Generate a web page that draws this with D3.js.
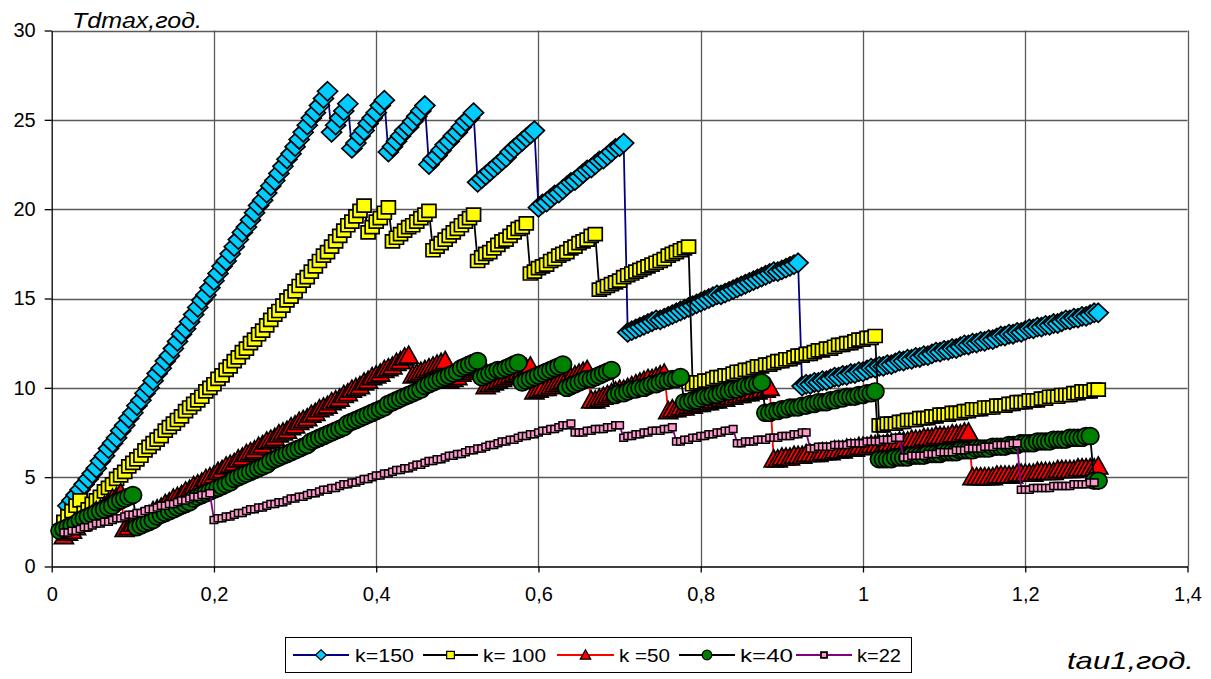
<!DOCTYPE html>
<html>
<head>
<meta charset="utf-8">
<script src="https://cdn.jsdelivr.net/npm/d3@7/dist/d3.min.js"></script>
<style>
  body { margin: 0; background: #fff; }
  text { font-family: "Liberation Sans", Arial, sans-serif; fill: #000; }
</style>
</head>
<body>
<svg id="chart" width="1211" height="679"></svg>
<script>
// tau1 values (x), shared by all series
const tau1 = [
  0.010,0.015,0.020,0.025,0.030,0.035,0.040,0.045,0.050,0.055,0.060,0.065,0.070,0.075,0.080,0.085,0.090,0.095,0.100,0.105,
  0.110,0.115,0.120,0.125,0.130,0.135,0.140,0.145,0.150,0.155,0.160,0.165,0.170,0.175,0.180,0.185,0.190,0.195,0.200,0.205,
  0.210,0.215,0.220,0.225,0.230,0.235,0.240,0.245,0.250,0.255,0.260,0.265,0.270,0.275,0.280,0.285,0.290,0.295,0.300,0.305,
  0.310,0.315,0.320,0.325,0.330,0.335,0.340,0.345,0.350,0.355,0.360,0.365,0.370,0.375,0.380,0.385,0.390,0.395,0.400,0.405,
  0.410,0.415,0.420,0.425,0.430,0.435,0.440,0.445,0.450,0.455,0.460,0.465,0.470,0.475,0.480,0.485,0.490,0.495,0.500,0.505,
  0.510,0.515,0.520,0.525,0.530,0.535,0.540,0.545,0.550,0.555,0.560,0.565,0.570,0.575,0.580,0.585,0.590,0.595,0.600,0.605,
  0.610,0.615,0.620,0.625,0.630,0.635,0.640,0.645,0.650,0.655,0.660,0.665,0.670,0.675,0.680,0.685,0.690,0.695,0.700,0.705,
  0.710,0.715,0.720,0.725,0.730,0.735,0.740,0.745,0.750,0.755,0.760,0.765,0.770,0.775,0.780,0.785,0.790,0.795,0.800,0.805,
  0.810,0.815,0.820,0.825,0.830,0.835,0.840,0.845,0.850,0.855,0.860,0.865,0.870,0.875,0.880,0.885,0.890,0.895,0.900,0.905,
  0.910,0.915,0.920,0.925,0.930,0.935,0.940,0.945,0.950,0.955,0.960,0.965,0.970,0.975,0.980,0.985,0.990,0.995,1.000,1.005,
  1.010,1.015,1.020,1.025,1.030,1.035,1.040,1.045,1.050,1.055,1.060,1.065,1.070,1.075,1.080,1.085,1.090,1.095,1.100,1.105,
  1.110,1.115,1.120,1.125,1.130,1.135,1.140,1.145,1.150,1.155,1.160,1.165,1.170,1.175,1.180,1.185,1.190,1.195,1.200,1.205,
  1.210,1.215,1.220,1.225,1.230,1.235,1.240,1.245,1.250,1.255,1.260,1.265,1.270,1.275,1.280,1.285,1.290
];

// Tdmax, k=150
const k150 = [
  null,null,
  3.4,3.7,4.0,4.3,4.6,4.9,5.2,5.5,5.9,6.2,6.6,6.9,7.2,7.6,7.9,8.3,8.6,
  9.0,9.3,9.7,10.0,10.4,10.8,11.1,11.5,11.8,12.2,12.6,13.0,13.3,13.7,14.1,14.5,14.9,15.2,15.6,16.0,
  16.4,16.8,17.1,17.5,17.9,18.3,18.7,19.0,19.4,19.8,20.2,20.5,20.9,21.3,21.6,22.0,22.4,22.8,23.1,23.5,
  23.9,24.3,24.7,25.1,25.4,25.8,26.2,26.6,
  24.3,24.7,25.1,25.5,25.9,
  23.4,23.7,24.1,24.4,24.8,25.1,25.4,25.8,26.1,
  23.2,23.5,23.8,24.1,24.4,24.6,24.9,25.2,25.5,25.8,
  22.5,22.8,23.0,23.3,23.6,23.8,24.1,24.3,24.6,24.9,25.1,25.4,
  21.5,21.7,21.9,22.1,22.3,22.5,22.7,22.9,23.2,23.4,23.6,23.8,24.0,24.2,24.4,
  20.1,20.3,20.4,20.6,20.8,20.9,21.1,21.3,21.5,21.6,21.8,22.0,22.2,22.3,22.5,22.7,22.8,23.0,23.2,23.4,23.5,23.7,
  13.1,13.2,13.3,13.4,13.5,13.6,13.7,13.8,13.8,13.9,14.0,14.1,14.2,14.3,14.4,14.5,14.6,14.7,14.8,14.9,
  15.0,15.1,15.2,15.2,15.3,15.4,15.5,15.6,15.7,15.8,15.9,16.0,16.1,16.2,16.3,16.4,16.5,16.5,16.6,16.7,
  16.8,16.9,17.0,
  10.1,10.2,10.2,10.3,10.3,10.4,10.4,10.5,10.6,10.6,10.7,10.7,10.8,10.8,10.9,10.9,11.0,11.1,11.1,11.2,
  11.2,11.3,11.3,11.4,11.5,11.5,11.6,11.6,11.7,11.7,11.8,11.8,11.9,12.0,12.0,12.1,12.1,12.2,12.2,12.3,
  12.4,12.4,12.5,12.5,12.6,12.6,12.7,12.7,12.8,12.9,12.9,13.0,13.0,13.1,13.1,13.2,13.3,13.3,13.4,13.4,
  13.5,13.5,13.6,13.6,13.7,13.8,13.8,13.9,13.9,14.0,14.0,14.1,14.2,14.2
];

// Tdmax, k=100
const k100 = [
  null,
  2.5,2.8,3.1,3.4,3.7,
  3.0,3.2,3.5,3.7,3.9,4.2,4.4,4.6,4.9,5.1,5.3,5.6,5.8,
  6.0,6.2,6.5,6.7,6.9,7.1,7.3,7.6,7.8,8.0,8.2,8.4,8.7,8.9,9.1,9.3,9.5,9.8,10.0,10.2,
  10.5,10.7,11.0,11.2,11.5,11.7,12.0,12.2,12.5,12.7,13.0,13.2,13.5,13.8,14.1,14.3,14.6,14.9,15.1,15.4,
  15.7,16.0,16.2,16.5,16.8,17.1,17.4,17.6,17.9,18.2,18.5,18.8,19.1,19.3,19.6,19.9,20.2,
  18.7,19.0,19.3,19.5,19.8,20.1,
  18.2,18.4,18.6,18.8,19.0,19.1,19.3,19.5,19.7,19.9,
  17.7,17.9,18.1,18.3,18.5,18.7,18.9,19.1,19.3,19.5,19.7,
  17.1,17.3,17.5,17.6,17.8,18.0,18.2,18.3,18.5,18.7,18.9,19.0,19.2,
  16.4,16.5,16.7,16.8,16.9,17.1,17.2,17.4,17.5,17.6,17.8,17.9,18.1,18.2,18.3,18.5,18.6,
  15.5,15.6,15.7,15.8,15.9,16.0,16.2,16.3,16.4,16.5,16.6,16.7,16.8,16.9,17.0,17.1,17.2,17.4,17.5,17.6,17.7,17.8,17.9,
  10.2,10.3,10.3,10.4,10.4,10.5,10.6,10.6,10.7,10.7,10.8,10.9,10.9,11.0,11.0,11.1,11.2,11.2,11.3,11.3,
  11.4,11.5,11.5,11.6,11.6,11.7,11.8,11.8,11.9,11.9,12.0,12.1,12.1,12.2,12.2,12.3,12.4,12.4,12.5,12.5,
  12.6,12.7,12.7,12.8,12.8,12.9,
  7.9,7.9,8.0,8.0,8.0,8.1,8.1,8.2,8.2,8.2,8.3,8.3,8.3,8.4,8.4,8.5,8.5,8.5,8.6,8.6,
  8.6,8.7,8.7,8.8,8.8,8.8,8.9,8.9,8.9,9.0,9.0,9.0,9.1,9.1,9.2,9.2,9.2,9.3,9.3,9.3,
  9.4,9.4,9.5,9.5,9.5,9.6,9.6,9.6,9.7,9.7,9.8,9.8,9.8,9.9,9.9
];

// Tdmax, k=50
const k50 = [
  null,
  1.7,1.9,2.0,2.2,2.4,2.6,2.7,2.9,3.1,3.2,3.4,3.6,3.8,3.9,4.1,
  2.1,2.2,2.4,2.5,2.7,2.8,2.9,3.1,3.2,3.3,3.5,3.6,3.8,3.9,4.0,4.2,4.3,4.5,4.6,4.7,
  4.9,5.0,5.1,5.3,5.4,5.6,5.7,5.8,6.0,6.1,6.3,6.4,6.5,6.7,6.8,7.0,7.1,7.2,7.4,7.5,
  7.6,7.8,7.9,8.1,8.2,8.3,8.5,8.6,8.8,8.9,9.0,9.2,9.3,9.4,9.6,9.7,9.9,10.0,10.1,10.3,
  10.4,10.6,10.7,10.8,11.0,11.1,11.2,11.4,11.5,11.7,11.8,
  10.7,10.8,10.9,11.0,11.1,11.2,11.3,11.4,11.5,
  10.4,10.5,10.6,10.8,10.9,11.0,11.1,11.2,11.3,
  10.1,10.2,10.3,10.4,10.5,10.6,10.7,10.8,10.9,11.0,11.1,11.2,
  9.8,9.9,10.0,10.0,10.1,10.2,10.3,10.4,10.5,10.6,10.7,10.8,10.9,11.0,
  9.3,9.3,9.4,9.5,9.6,9.7,9.8,9.9,9.9,10.0,10.1,10.2,10.3,10.4,10.5,10.5,10.6,10.7,10.8,
  8.7,8.8,8.8,8.9,8.9,9.0,9.0,9.1,9.1,9.2,9.2,9.3,9.3,9.4,9.4,9.5,9.5,9.6,9.6,9.7,9.7,9.8,9.8,9.9,9.9,10.0,
  6.0,6.0,6.1,6.1,6.1,6.2,6.2,6.2,6.3,6.3,6.3,6.3,6.4,6.4,6.4,6.5,6.5,6.5,6.6,6.6,
  6.6,6.7,6.7,6.7,6.8,6.8,6.8,6.8,6.9,6.9,6.9,7.0,7.0,7.0,7.1,7.1,7.1,7.2,7.2,7.2,
  7.3,7.3,7.3,7.3,7.4,7.4,7.4,7.5,7.5,
  5.0,5.0,5.0,5.0,5.0,5.0,5.1,5.1,5.1,5.1,5.1,5.2,5.2,5.2,5.2,5.2,5.3,5.3,5.3,5.3,
  5.3,5.4,5.4,5.4,5.4,5.4,5.5,5.5,5.5,5.5,5.5,5.6
];

// Tdmax, k=40
const k40 = [
  2.0,2.1,2.2,2.3,2.4,2.6,2.7,2.8,2.9,3.0,3.1,3.2,3.3,3.4,3.6,3.7,3.8,3.9,4.0,
  2.2,2.3,2.4,2.5,2.6,2.8,2.9,3.0,3.1,3.2,3.3,3.4,3.5,3.6,3.8,3.9,4.0,4.1,4.2,4.3,
  4.4,4.5,4.6,4.7,4.9,5.0,5.1,5.2,5.3,5.4,5.5,5.6,5.7,5.9,6.0,6.1,6.2,6.3,6.4,6.5,
  6.6,6.7,6.8,7.0,7.1,7.2,7.3,7.4,7.5,7.6,7.7,7.8,8.0,8.1,8.2,8.3,8.4,8.5,8.6,8.7,
  8.8,8.9,9.1,9.2,9.3,9.4,9.5,9.6,9.7,9.8,9.9,10.1,10.2,10.3,10.4,10.5,10.6,10.7,10.8,10.9,
  11.1,11.2,11.3,11.4,11.5,
  10.6,10.7,10.8,10.9,11.0,11.0,11.1,11.2,11.3,11.4,
  10.3,10.4,10.5,10.6,10.7,10.8,10.9,11.0,11.1,11.2,11.3,
  10.0,10.1,10.2,10.3,10.4,10.5,10.5,10.6,10.7,10.8,10.9,11.0,
  9.6,9.7,9.7,9.8,9.9,9.9,10.0,10.0,10.1,10.2,10.2,10.3,10.4,10.4,10.5,10.5,10.6,
  9.2,9.2,9.3,9.3,9.4,9.5,9.5,9.6,9.6,9.7,9.8,9.8,9.9,9.9,10.0,10.1,10.1,10.2,10.2,10.3,
  8.6,8.6,8.7,8.7,8.8,8.8,8.9,8.9,8.9,9.0,9.0,9.1,9.1,9.2,9.2,9.2,9.3,9.3,9.4,9.4,
  9.5,9.5,9.5,9.6,9.6,9.7,9.7,9.8,
  6.0,6.0,6.0,6.0,6.1,6.1,6.1,6.1,6.2,6.2,6.2,6.2,6.3,6.3,6.3,6.3,6.4,6.4,6.4,6.4,
  6.5,6.5,6.5,6.5,6.6,6.6,6.6,6.6,6.7,6.7,6.7,6.7,6.8,6.8,6.8,6.9,6.9,6.9,6.9,7.0,
  7.0,7.0,7.0,7.1,7.1,7.1,7.1,7.2,7.2,7.2,7.2,7.3,7.3,
  4.8,4.8
];

// Tdmax, k=22
const k22 = [
  null,
  1.9,1.9,2.0,2.0,2.1,2.2,2.2,2.3,2.4,2.4,2.5,2.5,2.6,2.7,2.7,2.8,2.9,2.9,3.0,3.0,
  3.1,3.2,3.2,3.3,3.4,3.4,3.5,3.5,3.6,3.7,3.7,3.8,3.9,3.9,4.0,4.0,4.1,
  2.6,2.7,2.7,2.8,2.8,2.9,3.0,3.0,3.1,3.2,3.2,3.3,3.3,3.4,3.5,3.5,3.6,3.6,3.7,3.8,
  3.8,3.9,3.9,4.0,4.1,4.1,4.2,4.3,4.3,4.4,4.4,4.5,4.6,4.6,4.7,4.7,4.8,4.9,4.9,5.0,
  5.1,5.1,5.2,5.2,5.3,5.4,5.4,5.5,5.5,5.6,5.7,5.7,5.8,5.9,5.9,6.0,6.0,6.1,6.2,6.2,
  6.3,6.3,6.4,6.5,6.5,6.6,6.6,6.7,6.8,6.8,6.9,7.0,7.0,7.1,7.1,7.2,7.3,7.3,7.4,7.4,
  7.5,7.6,7.6,7.7,7.7,7.8,7.9,7.9,8.0,
  7.5,7.5,7.5,7.6,7.6,7.7,7.7,7.7,7.8,7.8,7.9,7.9,
  7.2,7.3,7.3,7.4,7.4,7.5,7.5,7.6,7.6,7.6,7.7,7.7,7.8,
  7.0,7.0,7.1,7.1,7.2,7.2,7.3,7.3,7.4,7.4,7.5,7.5,7.6,7.6,7.7,
  6.9,6.9,7.0,7.0,7.0,7.1,7.1,7.1,7.2,7.2,7.2,7.3,7.3,7.3,7.4,7.4,7.5,7.5,
  6.6,6.6,6.7,6.7,6.7,6.7,6.8,6.8,6.8,6.8,6.9,6.9,6.9,6.9,7.0,7.0,7.0,7.0,7.1,7.1,7.1,7.2,7.2,
  6.1,6.1,6.2,6.2,6.2,6.2,6.3,6.3,6.3,6.4,6.4,6.4,6.4,6.5,6.5,6.5,6.6,6.6,6.6,6.6,6.7,6.7,6.7,6.8,6.8,6.8,6.8,6.9,6.9,
  4.3,4.3,4.3,4.4,4.4,4.4,4.4,4.4,4.5,4.5,4.5,4.5,4.5,4.6,4.6,4.6,4.6,4.7,4.7,
  null
];

const seriesNames = ['k=150', 'k= 100', 'k =50', 'k=40', 'k=22'];
const xTicks = [0, 0.2, 0.4, 0.6, 0.8, 1, 1.2, 1.4];
const yTicks = [0, 5, 10, 15, 20, 25, 30];

// marker shapes, centred on the point
const diamond = 'M0,-9.5L10,0L0,9.5L-10,0Z';
const bigSquare = 'M-7,-6.5H7V6.5H-7Z';
const triangle = 'M0,-9.5L9.5,7.5L-9.5,7.5Z';
const smallSquare = 'M-3.8,-3.5H3.8V3.5H-3.8Z';

const styles = [
  {values: k150, line: '#000080', fill: '#00ccff', shape: diamond},
  {values: k100, line: '#000000', fill: '#ffff00', shape: bigSquare},
  {values: k50,  line: '#ff0000', fill: '#ff0000', shape: triangle},
  {values: k40,  line: '#000000', fill: '#008000', shape: 'circle'},
  {values: k22,  line: '#800080', fill: '#ff99cc', shape: smallSquare}
];

var plot = {left: 51.7, top: 30.5, right: 1187.5, bottom: 566.5};

var x = d3.scaleLinear()
    .domain([0, 1.4])
    .range([plot.left, plot.right]);

var y = d3.scaleLinear()
    .domain([0, 30])
    .range([plot.bottom, plot.top]);

const svg = d3.select('#chart');

// gridlines
svg.append('g')
    .attr('class', 'grid y')
  .selectAll('line')
    .data(yTicks.slice(1))
  .enter().append('line')
    .attr('x1', plot.left)
    .attr('x2', plot.right)
    .attr('y1', d => Math.round(y(d)) + 0.5)
    .attr('y2', d => Math.round(y(d)) + 0.5)
    .attr('stroke', '#5a5a5a')
    .attr('stroke-width', 1.3);

svg.append('g')
    .attr('class', 'grid x')
  .selectAll('line')
    .data(xTicks.slice(1))
  .enter().append('line')
    .attr('x1', d => Math.round(x(d)) + 0.5)
    .attr('x2', d => Math.round(x(d)) + 0.5)
    .attr('y1', plot.top)
    .attr('y2', plot.bottom)
    .attr('stroke', '#5a5a5a')
    .attr('stroke-width', 1.3);

const commaFormat = d => (+d.toFixed(1)).toString().replace('.', ',');

const xAxis = d3.axisBottom(x)
    .tickValues(xTicks)
    .tickFormat(commaFormat)
    .tickSize(6)
    .tickSizeOuter(0)
    .tickPadding(14);

const yAxis = d3.axisLeft(y)
    .tickValues(yTicks)
    .tickSize(7)
    .tickSizeOuter(0)
    .tickPadding(9);

svg.append('g')
    .attr('class', 'x axis')
    .attr('transform', 'translate(0,' + plot.bottom + ')')
    .call(xAxis)
    .call(g => g.selectAll('text').attr('font-size', 20).attr('font-family', '"Liberation Sans", Arial, sans-serif'));

svg.append('g')
    .attr('class', 'y axis')
    .attr('transform', 'translate(' + plot.left + ',0)')
    .call(yAxis)
    .call(g => g.selectAll('text').attr('font-size', 20).attr('font-family', '"Liberation Sans", Arial, sans-serif'));

svg.selectAll('.axis path, .axis line').attr('stroke', '#000').attr('stroke-width', 1.3);

// series: line first, then markers on top of it
const line = d3.line()
    .defined(d => d[1] != null)
    .x(d => x(d[0]))
    .y(d => y(d[1]));

styles.forEach((s, i) => {
  const pts = tau1.map((t, j) => [t, s.values[j]]);
  const g = svg.append('g').attr('class', 'series s' + i);

  g.append('path')
      .datum(pts)
      .attr('fill', 'none')
      .attr('stroke', s.line)
      .attr('stroke-width', 1.8)
      .attr('d', line);

  const marks = g.selectAll('.mark')
      .data(pts.filter(d => d[1] != null))
    .enter();

  if (s.shape === 'circle') {
    marks.append('ellipse')
        .attr('cx', d => x(d[0]))
        .attr('cy', d => y(d[1]))
        .attr('rx', 8.8)
        .attr('ry', 8.4)
        .attr('fill', s.fill)
        .attr('stroke', '#000')
        .attr('stroke-width', 1.7);
  } else {
    marks.append('path')
        .attr('d', s.shape)
        .attr('transform', d => 'translate(' + x(d[0]) + ',' + y(d[1]) + ')')
        .attr('fill', s.fill)
        .attr('stroke', '#000')
        .attr('stroke-width', i === 4 ? 1.5 : 1.7);
  }
});

// axis titles
svg.append('text')
    .attr('x', 72)
    .attr('y', 28)
    .attr('font-size', 22)
    .attr('font-style', 'italic')
    .attr('textLength', 130)
    .attr('lengthAdjust', 'spacingAndGlyphs')
    .text('Tdmax,год.');

svg.append('text')
    .attr('x', 1067)
    .attr('y', 669)
    .attr('font-size', 24)
    .attr('font-style', 'italic')
    .attr('textLength', 127)
    .attr('lengthAdjust', 'spacingAndGlyphs')
    .text('tau1,год.');

// legend
const legendItems = [
  {x1: 293, x2: 349, tx: 355, tw: 59},
  {x1: 423, x2: 478, tx: 483, tw: 63},
  {x1: 557, x2: 614, tx: 619, tw: 51},
  {x1: 679, x2: 735, tx: 740, tw: 53},
  {x1: 796, x2: 852, tx: 857, tw: 44}
];
const legendY = 655;

const legend = svg.append('g').attr('class', 'legend');
legend.append('rect')
    .attr('x', 285.5)
    .attr('y', 637.5)
    .attr('width', 626)
    .attr('height', 35)
    .attr('fill', '#fff')
    .attr('stroke', '#000')
    .attr('stroke-width', 1);

legendItems.forEach((it, i) => {
  const s = styles[i];
  const cx = (it.x1 + it.x2) / 2;
  legend.append('line')
      .attr('x1', it.x1).attr('x2', it.x2)
      .attr('y1', legendY).attr('y2', legendY)
      .attr('stroke', s.line)
      .attr('stroke-width', 1.8);
  if (s.shape === 'circle') {
    legend.append('circle')
        .attr('cx', cx).attr('cy', legendY).attr('r', 4.8)
        .attr('fill', s.fill).attr('stroke', '#000').attr('stroke-width', 1.3);
  } else {
    legend.append('path')
        .attr('d', s.shape)
        .attr('transform', 'translate(' + cx + ',' + legendY + ') scale(' + (i === 4 ? 0.8 : 0.55) + ')')
        .attr('fill', s.fill).attr('stroke', '#000').attr('stroke-width', 2.2);
  }
  legend.append('text')
      .attr('x', it.tx)
      .attr('y', legendY + 7)
      .attr('font-size', 19)
      .attr('textLength', it.tw)
      .attr('lengthAdjust', 'spacingAndGlyphs')
      .text(seriesNames[i]);
});
</script>
</body>
</html>
